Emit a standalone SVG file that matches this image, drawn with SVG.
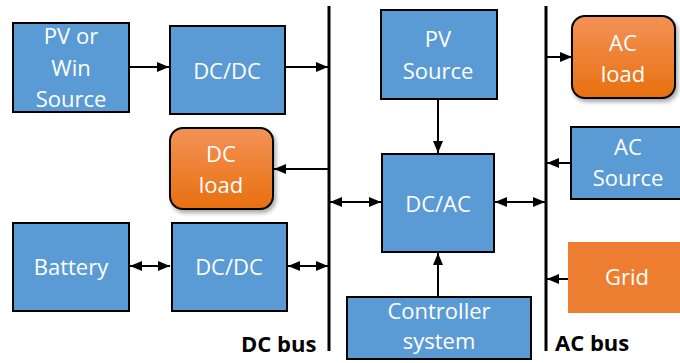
<svg xmlns="http://www.w3.org/2000/svg" width="680" height="363" viewBox="0 0 680 363">
<defs>
<style>
.box{fill:#5B9BD5;stroke:#000;stroke-width:2}
.load{fill:url(#og);stroke:#000;stroke-width:2;filter:url(#sh)}
.grid{fill:#ED7D31}
.t{font-family:"Open Sans","Liberation Sans",sans-serif;font-size:22px;fill:#fff;text-anchor:middle}
.bus{font-family:"Open Sans","Liberation Sans",sans-serif;font-size:22px;font-weight:bold;fill:#000}
.c{stroke:#000;stroke-width:2;fill:none}
.busline{stroke:#000;stroke-width:3}
</style>
<linearGradient id="og" x1="0" y1="0" x2="0" y2="1">
<stop offset="0" stop-color="#F39257"/>
<stop offset="1" stop-color="#E8700F"/>
</linearGradient>
<filter id="sh" x="-20%" y="-20%" width="150%" height="150%">
<feDropShadow dx="2" dy="3" stdDeviation="2" flood-color="#000" flood-opacity="0.35"/>
</filter>
<marker id="ah" viewBox="0 0 12 10" refX="12" refY="5" markerWidth="12" markerHeight="10" markerUnits="userSpaceOnUse" orient="auto-start-reverse">
<path d="M0,0 L12,5 L0,10 Z" fill="#000"/>
</marker>
</defs>

<g id="buses">
<line class="busline" x1="329" y1="6" x2="329" y2="351"/>
<line class="busline" x1="546" y1="6" x2="546" y2="351"/>
<text class="bus" x="241" y="352">DC bus</text>
<text class="bus" x="555" y="351">AC bus</text>
</g>

<g id="connectors">
<line class="c" x1="130" y1="67" x2="169" y2="67" marker-end="url(#ah)"/>
<line class="c" x1="286" y1="67" x2="328" y2="67" marker-end="url(#ah)"/>
<line class="c" x1="328" y1="169" x2="274" y2="169" marker-end="url(#ah)"/>
<line class="c" x1="130" y1="266" x2="170" y2="266" marker-start="url(#ah)" marker-end="url(#ah)"/>
<line class="c" x1="288" y1="266" x2="328" y2="266" marker-start="url(#ah)" marker-end="url(#ah)"/>
<line class="c" x1="330" y1="202" x2="381" y2="202" marker-start="url(#ah)" marker-end="url(#ah)"/>
<line class="c" x1="495" y1="202" x2="545" y2="202" marker-start="url(#ah)" marker-end="url(#ah)"/>
<line class="c" x1="438" y1="100" x2="438" y2="153" marker-end="url(#ah)"/>
<line class="c" x1="438" y1="296" x2="438" y2="253" marker-end="url(#ah)"/>
<line class="c" x1="547" y1="57" x2="572" y2="57" marker-end="url(#ah)"/>
<line class="c" x1="571" y1="163" x2="547" y2="163" marker-end="url(#ah)"/>
<line class="c" x1="568" y1="279" x2="547" y2="279" marker-end="url(#ah)"/>
</g>

<g id="pv-win">
<rect class="box" x="13" y="23" width="116" height="89"/>
<text class="t" x="71" y="44">PV or</text>
<text class="t" x="71" y="76">Win</text>
<text class="t" x="71" y="107">Source</text>
</g>

<g id="dcdc-top">
<rect class="box" x="170" y="26" width="115" height="88"/>
<text class="t" x="227" y="79">DC/DC</text>
</g>

<g id="dc-load">
<rect class="load" x="170" y="128" width="103" height="81" rx="13"/>
<text class="t" x="221" y="162">DC</text>
<text class="t" x="221" y="193">load</text>
</g>

<g id="battery">
<rect class="box" x="13" y="223" width="116" height="88"/>
<text class="t" x="71" y="275">Battery</text>
</g>

<g id="dcdc-bottom">
<rect class="box" x="172" y="223" width="115" height="88"/>
<text class="t" x="229" y="275">DC/DC</text>
</g>

<g id="pv-source">
<rect class="box" x="381" y="10" width="116" height="89"/>
<text class="t" x="438" y="47">PV</text>
<text class="t" x="438" y="79">Source</text>
</g>

<g id="dcac">
<rect class="box" x="382" y="154" width="112" height="98"/>
<text class="t" x="438" y="212">DC/AC</text>
</g>

<g id="controller">
<rect class="box" x="347" y="297" width="184" height="62"/>
<text class="t" x="439" y="319">Controller</text>
<text class="t" x="439" y="349">system</text>
</g>

<g id="ac-load">
<rect class="load" x="572" y="16" width="103" height="82" rx="13"/>
<text class="t" x="623" y="51">AC</text>
<text class="t" x="623" y="82">load</text>
</g>

<g id="ac-source">
<rect class="box" x="571" y="127" width="112" height="72"/>
<text class="t" x="628" y="155">AC</text>
<text class="t" x="628" y="186">Source</text>
</g>

<g id="grid">
<rect class="grid" x="568" y="242" width="114" height="71"/>
<text class="t" x="627" y="285">Grid</text>
</g>
</svg>
